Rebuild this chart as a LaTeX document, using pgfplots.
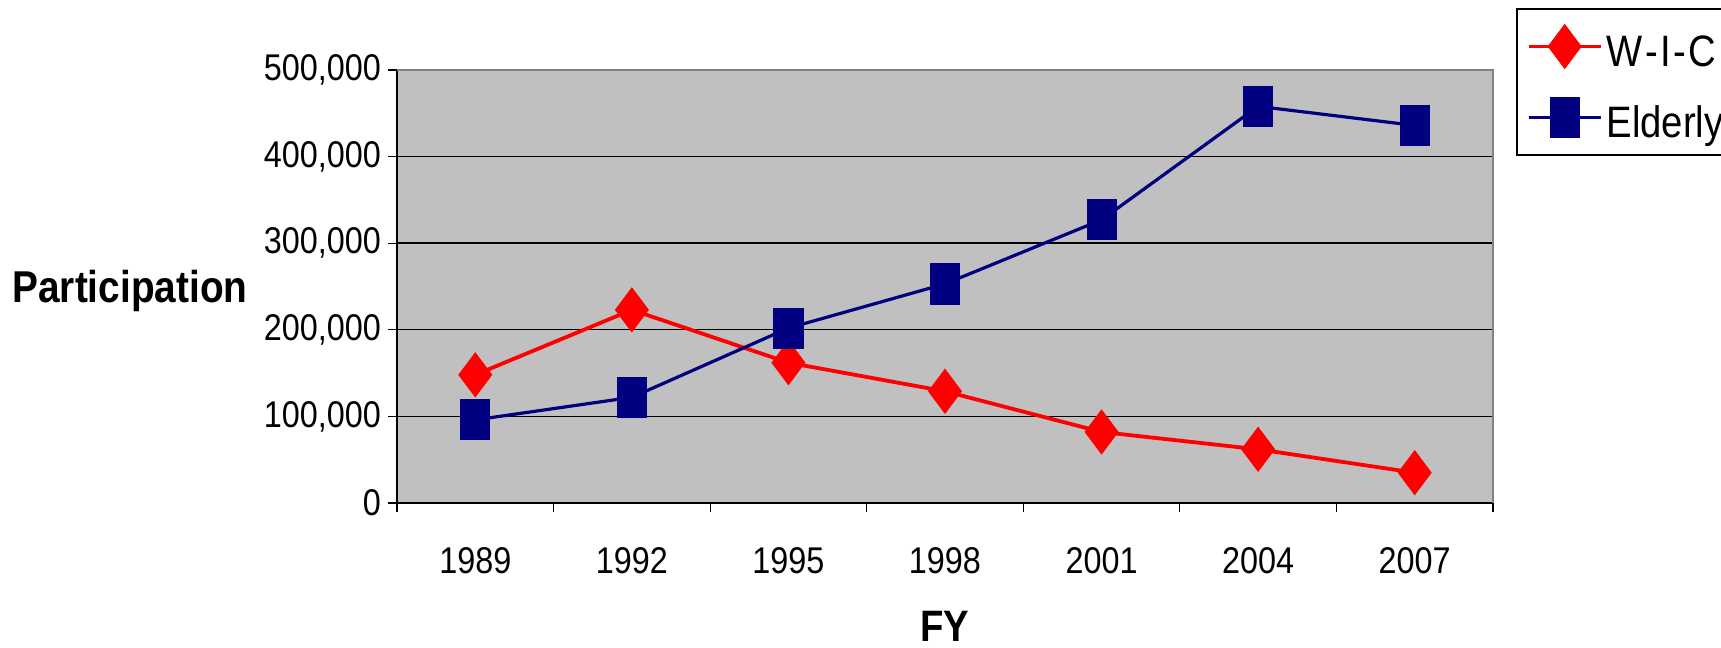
\documentclass[border=0pt]{standalone}
\usepackage{fontspec}
\setmainfont{Liberation Sans}[FakeStretch=0.87]
\usepackage{pgfplots}
\pgfplotsset{compat=1.18}
\definecolor{plotbg}{HTML}{C0C0C0}
\definecolor{wic}{HTML}{FF0000}
\definecolor{eld}{HTML}{000080}
\definecolor{bord}{HTML}{808080}
\begin{document}
\begin{tikzpicture}
\begin{axis}[
  scale only axis, width=548pt, height=216.5pt,
  xmin=-0.5, xmax=6.5, ymin=0, ymax=500000,
  clip=false,
  axis lines*=left,
  axis line style={black, line width=0.8pt, -},
  axis background/.style={fill=plotbg},
  xtick={-0.5,0.5,...,6.5},
  x tick label as interval,
  xticklabels={1989,1992,1995,1998,2001,2004,2007},
  ytick={0,100000,200000,300000,400000,500000},
  yticklabels={0,{100,000},{200,000},{300,000},{400,000},{500,000}},
  scaled y ticks=false,
  tick align=outside, major tick length=4.5pt,
  tick style={black, line width=0.6pt},
  ymajorgrids, grid style={black, line width=0.7pt},
  ticklabel style={font=\fontsize{18.6pt}{20pt}\selectfont},
  xticklabel style={yshift=-14pt},
  legend style={at={(axis description cs:1.021,1.143)}, anchor=north west,
    draw=black, line width=0.8pt, fill=white,
    font=\fontsize{22pt}{24pt}\selectfont,
    inner xsep=5pt, inner ysep=6.8pt, row sep=11.5pt,
    nodes={text height=20pt, text depth=0pt, inner sep=2pt}},
  legend cell align=left,
  legend image code/.code={\draw[mark repeat=2,mark phase=2] plot coordinates {(0pt,0pt) (18pt,0pt) (36pt,0pt)};},
]
\addplot[color=wic, line width=1.9pt, mark=diamond*, mark size=11pt,
  mark options={solid, fill=wic, draw=wic, line width=0.4pt}]
  coordinates {(0,148000) (1,223000) (2,162000) (3,129000) (4,82000) (5,62000) (6,35000)};
\addlegendentry{W\hspace{1.2pt}-\hspace{1.2pt}I\hspace{1.2pt}-\hspace{1.2pt}C}
\addplot[color=eld, line width=1.6pt, mark=square*, mark size=7.3pt,
  mark options={yscale=1.37, solid, fill=eld, draw=eld, line width=0.4pt}]
  coordinates {(0,96000) (1,122000) (2,202000) (3,253000) (4,327000) (5,458000) (6,436000)};
\addlegendentry{Elderly}
\coordinate (bl) at (rel axis cs:0,0);
\coordinate (tr) at (rel axis cs:1,1);
\end{axis}
\draw[bord, line width=1.3pt] (bl |- tr) -- (tr) -- (tr |- bl);
\node[font=\fontsize{22.3pt}{24pt}\selectfont\bfseries] at ([xshift=-133.5pt,yshift=106pt]bl) {Participation};
\node[font=\fontsize{22pt}{24pt}\selectfont\bfseries] at ([xshift=274pt,yshift=-61.5pt]bl) {FY};
\pgfresetboundingbox
\path[use as bounding box] ([xshift=-198.5pt,yshift=-72.5pt]bl) rectangle ([xshift=662pt,yshift=251.5pt]bl);
\end{tikzpicture}
\end{document}
